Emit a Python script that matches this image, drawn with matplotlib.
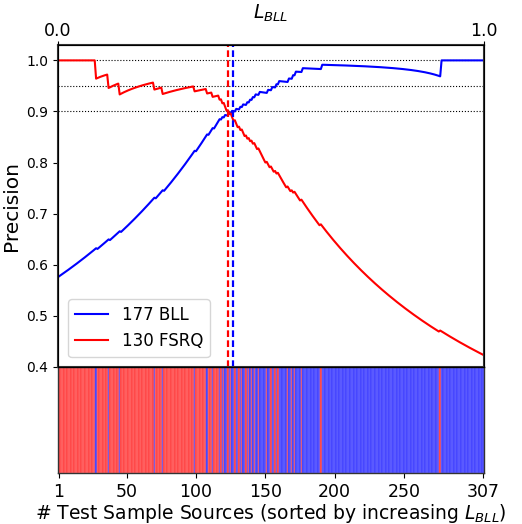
import numpy as np
import matplotlib
matplotlib.use("Agg")
import matplotlib.pyplot as plt

# ---- data -------------------------------------------------------------
n_sources = 307
# positions (1-based, sorted by increasing L_BLL) of BLL sources inside the FSRQ-dominated part
bll_positions_low = [28, 37, 45, 70, 76, 99, 108, 112, 117, 119, 121, 122, 124]
# positions of FSRQ sources inside the BLL-dominated part
fsrq_positions_high = [125, 128, 131, 133, 136, 138, 140, 142, 145, 151, 154, 157,
                       159, 166, 169, 171, 176, 190, 276]
boundary_index = 124          # everything <= this is FSRQ unless listed above
thr_fsrq = 123.3              # red dashed threshold (index units)
thr_bll = 126.4               # blue dashed threshold (index units)
hlines = [1.0, 0.95, 0.9]
bottom_ticks = [1, 50, 100, 150, 200, 250, 307]
yticks = [0.4, 0.5, 0.6, 0.7, 0.8, 0.9, 1.0]
top_ticks = [0.0, 1.0]

# label sequence: 1 = BLL, 0 = FSRQ
idx = np.arange(1, n_sources + 1)
is_bll = (idx > boundary_index).astype(int)
for p in bll_positions_low:
    is_bll[p - 1] = 1
for p in fsrq_positions_high:
    is_bll[p - 1] = 0
n_bll = int(is_bll.sum())
n_fsrq = n_sources - n_bll

# precision curves
fsrq_cum = np.cumsum(1 - is_bll)
prec_fsrq = fsrq_cum / idx
bll_rev = np.cumsum(is_bll[::-1])[::-1]
prec_bll = bll_rev / (n_sources - idx + 1)

# ---- figure -----------------------------------------------------------
fig = plt.figure(figsize=(5.22, 5.24), dpi=100)
ax = fig.add_axes([0.111, 0.300, 0.816, 0.614])
axs = fig.add_axes([0.111, 0.097, 0.816, 0.203])

ax.plot(idx, prec_bll, color="blue", lw=1.5, label=f"{n_bll} BLL")
ax.plot(idx, prec_fsrq, color="red", lw=1.5, label=f"{n_fsrq} FSRQ")
for h in hlines:
    ax.axhline(h, color="black", ls=":", lw=0.8, zorder=0)
ax.axvline(thr_fsrq, color="red", ls=(0, (3, 1.5)), lw=1.6)
ax.axvline(thr_bll, color="blue", ls=(0, (3, 1.5)), lw=1.6)
ax.set_xlim(0.5, n_sources + 0.5)
ax.set_ylim(0.4, 1.03)
ax.set_yticks(yticks)
ax.set_yticklabels([f"{v:.1f}" for v in yticks], fontsize=10)
ax.set_xticks([])
ax.set_ylabel("Precision", fontsize=14.5)
ax.legend(loc="lower left", fontsize=12, handlelength=2.0,
          bbox_to_anchor=(0.005, 0.005))
for s in ax.spines.values():
    s.set_linewidth(1.5)
    s.set_color("#333333")

axt = ax.twiny()
axt.set_xlim(0, 1)
axt.set_xticks(top_ticks)
axt.set_xticklabels([f"{v:.1f}" for v in top_ticks], fontsize=12.5)
axt.tick_params(axis="x", pad=1.0, length=3)
axt.set_xlabel(r"$L_{BLL}$", fontsize=13.5, labelpad=2)

face = np.where(is_bll == 1, "#3a3aff", "#ff3a3a")
edge = np.where(is_bll == 1, "#7070ff", "#ff7878")
axs.bar(idx, np.ones(n_sources), width=1.0, color=face,
        edgecolor=edge, linewidth=0.35)
axs.set_xlim(0.5, n_sources + 0.5)
axs.set_ylim(0, 1)
axs.set_yticks([])
axs.set_xticks(bottom_ticks)
axs.set_xticklabels([str(t) for t in bottom_ticks], fontsize=12.5)
axs.set_xlabel(r"# Test Sample Sources (sorted by increasing $L_{BLL}$)",
               fontsize=13.5, labelpad=1)
for s in axs.spines.values():
    s.set_linewidth(1.0)
    s.set_color("#333333")

fig.savefig("out.png", dpi=100)
